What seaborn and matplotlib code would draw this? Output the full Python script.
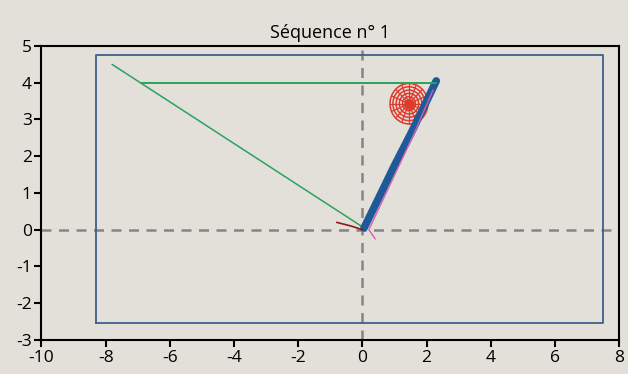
import numpy as np
import pandas as pd
import matplotlib
matplotlib.use("Agg")
import matplotlib.pyplot as plt
import seaborn as sns

# Données
title = "Séquence n° 1"
x_ticks = [-10, -8, -6, -4, -2, 0, 2, 4, 6, 8]
y_ticks = [-3, -2, -1, 0, 1, 2, 3, 4, 5]

# cadre bleu (coins)
frame_x = [-8.3, 7.5, 7.5, -8.3, -8.3]
frame_y = [-2.55, -2.55, 4.75, 4.75, -2.55]

# trajectoire verte
green_x = [-7.8, 0.05, 2.3]
green_y = [4.5, 0.05, 4.0]
green_h_x = [-6.9, 2.3]
green_h_y = [4.0, 4.0]

# trajectoire bleue (épaisse)
blue_x = [0.05, 0.5, 1.0, 1.5, 2.0, 2.3]
blue_y = [0.05, 0.85, 1.75, 2.6, 3.5, 4.05]

# trajectoire magenta
pink_x = [0.4, 0.2, 0.9, 1.6, 2.2]
pink_y = [-0.25, 0.0, 1.3, 2.6, 3.8]

# petit segment rouge foncé
dred_x = [-0.8, -0.35, 0.0]
dred_y = [0.2, 0.1, 0.0]

# cible rouge
target_cx, target_cy = 1.45, 3.43
target_rx = [0.1, 0.2, 0.3, 0.4, 0.5, 0.59]
target_ry = [0.09, 0.19, 0.28, 0.37, 0.46, 0.55]

bg = "#e3dfd9"
sns.set_theme(style="ticks")
plt.rcParams['font.family'] = ['Open Sans', 'DejaVu Sans']
plt.rcParams['axes.unicode_minus'] = False

fig, ax = plt.subplots(figsize=(6.28, 3.74), dpi=100)
fig.patch.set_facecolor(bg)
ax.set_facecolor(bg)
fig.subplots_adjust(left=0.066, right=0.986, top=0.877, bottom=0.091)

# axes pointillés
ax.axhline(0, color="#858585", lw=1.8, ls=(0, (4, 3)), zorder=1)
ax.axvline(0, color="#858585", lw=1.8, ls=(0, (4, 3)), zorder=1)

ax.plot(frame_x, frame_y, color="#3d5f8c", lw=1.3, zorder=2)

# cible
t = np.linspace(0, 2 * np.pi, 80)
for rx, ry in zip(target_rx, target_ry):
    ax.plot(target_cx + rx * np.cos(t), target_cy + ry * np.sin(t), color="#e0392b", lw=1.1, zorder=3)
for a in np.linspace(0, np.pi, 9)[:-1]:
    ax.plot([target_cx - target_rx[-1] * np.cos(a), target_cx + target_rx[-1] * np.cos(a)],
            [target_cy - target_ry[-1] * np.sin(a), target_cy + target_ry[-1] * np.sin(a)],
            color="#e0392b", lw=0.9, zorder=3)
ax.scatter([target_cx], [target_cy], s=45, color="#e0392b", zorder=3)

sns.lineplot(x=green_x, y=green_y, sort=False, estimator=None, color="#2aa35c", lw=1.1, ax=ax, zorder=3.5)

df_blue = pd.DataFrame({'x': blue_x, 'y': blue_y})
sns.lineplot(data=df_blue, x='x', y='y', sort=False, estimator=None, color="#1e5a98", lw=5.5, ax=ax, zorder=4)

sns.lineplot(x=pink_x, y=pink_y, sort=False, estimator=None, color="#d060b0", lw=1.0, ax=ax, zorder=5)
sns.lineplot(x=green_h_x, y=green_h_y, sort=False, estimator=None, color="#2aa35c", lw=1.4, ax=ax, zorder=5)
sns.lineplot(x=dred_x, y=dred_y, sort=False, estimator=None, color="#8b1a1a", lw=1.2, ax=ax, zorder=5)

ax.set_xlim(-10, 8)
ax.set_ylim(-3, 5)
ax.set_xticks(x_ticks)
ax.set_yticks(y_ticks)
ax.set_xlabel("")
ax.set_ylabel("")
for s in ax.spines.values():
    s.set_color("black")
    s.set_linewidth(1.5)
ax.tick_params(axis='both', direction='out', length=5, width=1.5, labelsize=12.5, colors='black', pad=2)
ax.set_title(title, fontsize=13, pad=6, color='black')

plt.savefig("out.png", dpi=100, facecolor=bg)
